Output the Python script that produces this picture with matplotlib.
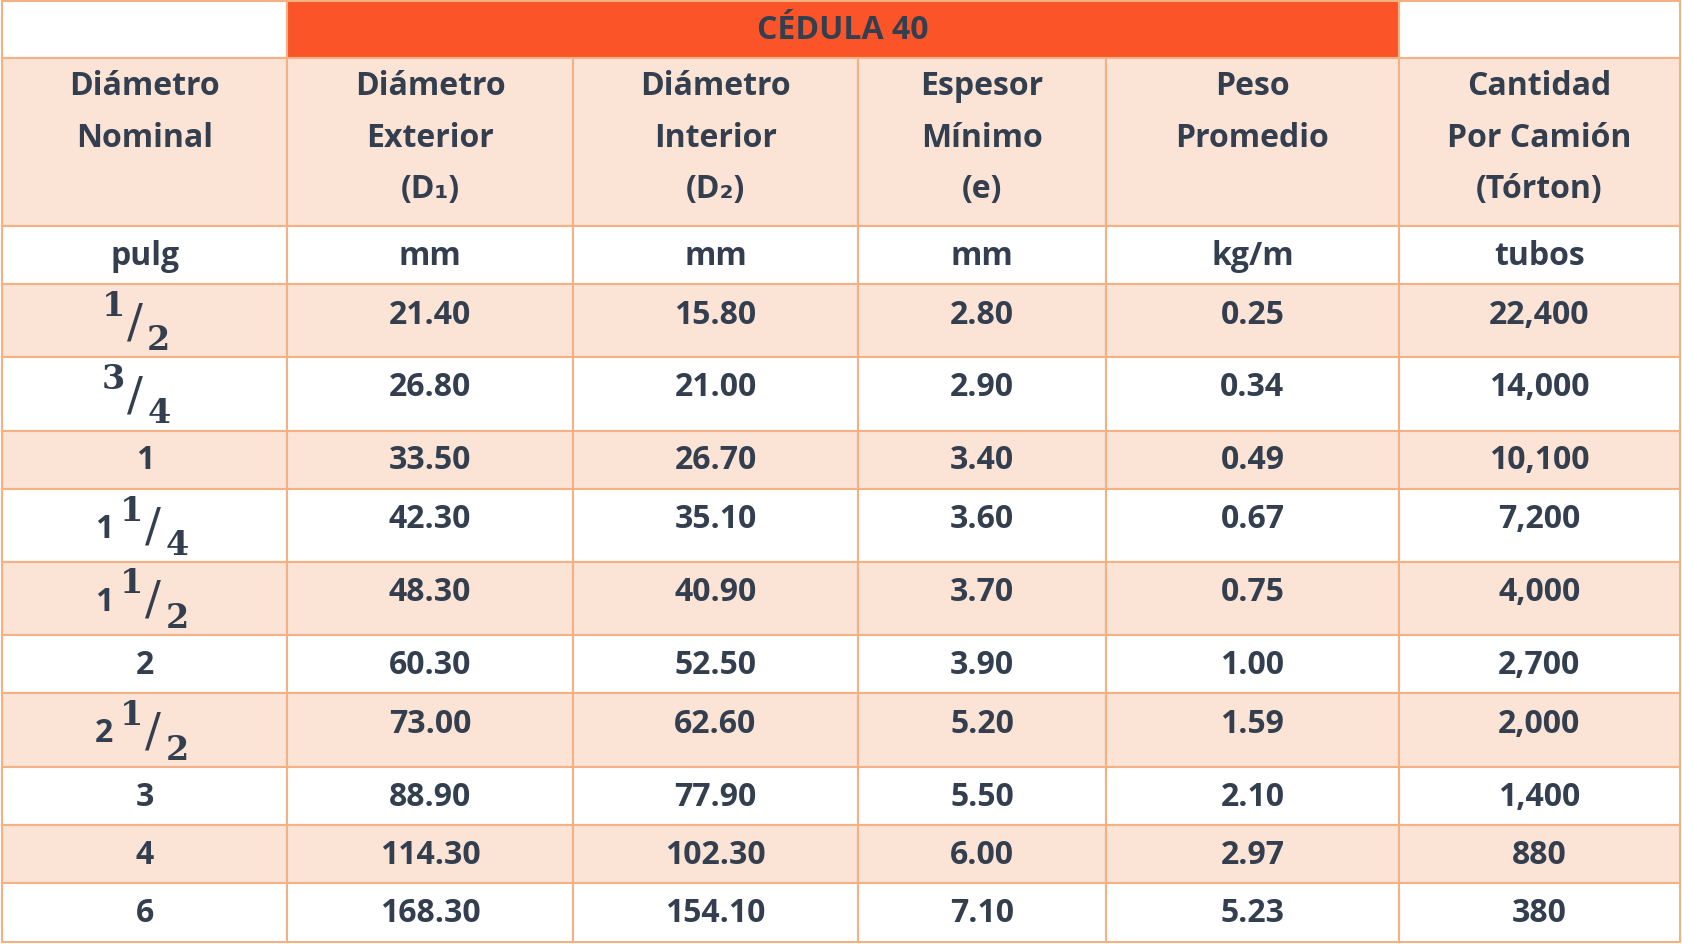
import matplotlib
matplotlib.use("Agg")
import matplotlib.pyplot as plt
from matplotlib.patches import Rectangle

title = "CÉDULA 40"
headers = ["Diámetro\nNominal", "Diámetro\nExterior\n(D₁)", "Diámetro\nInterior\n(D₂)",
           "Espesor\nMínimo\n(e)", "Peso\nPromedio", "Cantidad\nPor Camión\n(Tórton)"]
units = ["pulg", "mm", "mm", "mm", "kg/m", "tubos"]
nominal = [("", "1", "2"), ("", "3", "4"), ("1", None, None), ("1", "1", "4"), ("1", "1", "2"),
           ("2", None, None), ("2", "1", "2"), ("3", None, None), ("4", None, None), ("6", None, None)]
d_ext = ["21.40", "26.80", "33.50", "42.30", "48.30", "60.30", "73.00", "88.90", "114.30", "168.30"]
d_int = ["15.80", "21.00", "26.70", "35.10", "40.90", "52.50", "62.60", "77.90", "102.30", "154.10"]
espesor = ["2.80", "2.90", "3.40", "3.60", "3.70", "3.90", "5.20", "5.50", "6.00", "7.10"]
peso = ["0.25", "0.34", "0.49", "0.67", "0.75", "1.00", "1.59", "2.10", "2.97", "5.23"]
cantidad = ["22,400", "14,000", "10,100", "7,200", "4,000", "2,700", "2,000", "1,400", "880", "380"]

W, H = 1568, 882
cols = [2, 268, 534, 800, 1031, 1304, 1566]
rows = [2, 55, 212, 266, 334, 403, 457, 525, 594, 648, 717, 771, 825, 880]
ORANGE = "#FA5428"; PEACH = "#FBE3D6"; BORDER = "#F4B183"; TXT = "#333F4F"
FONT = ["Open Sans", "DejaVu Sans"]
FS = 23

fig = plt.figure(figsize=(16.82, 9.45), dpi=100)
ax = fig.add_axes([0, 0, 1, 1])
ax.set_xlim(0, W); ax.set_ylim(H, 0); ax.axis("off")

def cell(x0, x1, y0, y1, fc):
    ax.add_patch(Rectangle((x0, y0), x1 - x0, y1 - y0, facecolor=fc, edgecolor=BORDER, lw=1.5))

def txt(x, y, s, **kw):
    kw.setdefault("fontsize", FS)
    ax.text(x, y, s, ha="center", va="center", fontweight="bold", color=TXT,
            family=kw.pop("family", FONT), **kw)

cell(cols[0], cols[1], rows[0], rows[1], "white")
cell(cols[1], cols[5], rows[0], rows[1], ORANGE)
cell(cols[5], cols[6], rows[0], rows[1], "white")
txt((cols[1] + cols[5]) / 2, (rows[0] + rows[1]) / 2, title)

for j in range(6):
    xc = (cols[j] + cols[j + 1]) / 2
    cell(cols[j], cols[j + 1], rows[1], rows[2], PEACH)
    for k, line in enumerate(headers[j].split("\n")):
        txt(xc, rows[1] + 26 + 48 * k, line)
    cell(cols[j], cols[j + 1], rows[2], rows[3], "white")
    txt(xc, (rows[2] + rows[3]) / 2, units[j])

data = [d_ext, d_int, espesor, peso, cantidad]
for i in range(10):
    y0, y1 = rows[3 + i], rows[4 + i]
    fc = PEACH if i % 2 == 0 else "white"
    tall = (y1 - y0) > 60
    yt = y0 + 28 if tall else (y0 + y1) / 2
    for j in range(6):
        cell(cols[j], cols[j + 1], y0, y1, fc)
    for j, arr in enumerate(data, start=1):
        txt((cols[j] + cols[j + 1]) / 2, yt, arr[i])
    whole, num, den = nominal[i]
    xc = (cols[0] + cols[1]) / 2
    if num is None:
        txt(xc, yt, whole)
    else:
        off = -7 if whole == "" else 10
        if whole:
            txt(xc - 38, y0 + 37, whole)
        txt(xc - 22 + off, y0 + 20, num, family="DejaVu Serif", fontsize=24)
        ax.text(xc + off - 2, y0 + 36, "/", ha="center", va="center", fontsize=34,
                color=TXT, family="DejaVu Serif")
        txt(xc + 20 + off, y0 + 52, den, family="DejaVu Serif", fontsize=24)

fig.savefig("out.png", dpi=100, facecolor="white")
